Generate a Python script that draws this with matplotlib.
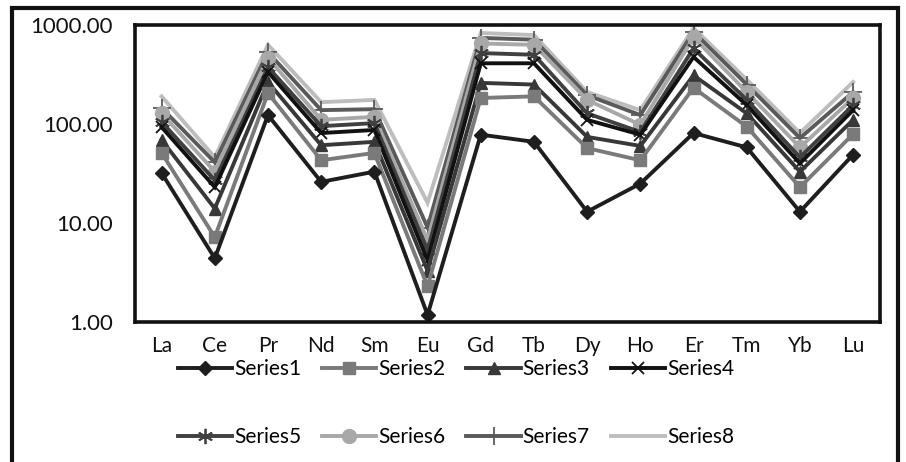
import matplotlib.pyplot as plt
from matplotlib.patches import Rectangle
from matplotlib.ticker import FixedLocator, FuncFormatter, NullLocator

elements = ["La", "Ce", "Pr", "Nd", "Sm", "Eu", "Gd", "Tb", "Dy", "Ho", "Er", "Tm", "Yb", "Lu"]

series1 = [32, 4.4, 123, 26, 33, 1.18, 78, 66, 13, 25, 81, 58, 13, 49]
series2 = [51, 7.2, 205, 43, 51, 2.3, 183, 190, 57, 43, 232, 94, 23, 79]
series3 = [69, 14, 265, 61, 66, 3.3, 260, 250, 74, 60, 310, 128, 33, 110]
series4 = [93, 23, 335, 81, 87, 4.2, 410, 410, 110, 78, 475, 155, 40, 138]
series5 = [105, 27, 375, 95, 102, 5.3, 520, 500, 128, 83, 580, 175, 46, 155]
series6 = [128, 33, 465, 110, 118, 6.7, 650, 630, 175, 98, 750, 210, 58, 183]
series7 = [145, 41, 530, 138, 141, 9, 740, 710, 195, 123, 850, 250, 72, 210]
series8 = [190, 46, 630, 166, 175, 16, 830, 790, 210, 138, 930, 280, 81, 265]

labels = ["Series1", "Series2", "Series3", "Series4",
          "Series5", "Series6", "Series7", "Series8"]
values = [series1, series2, series3, series4, series5, series6, series7, series8]

# grayscale styling for each series
colors = ["#1e1e1e", "#7a7a7a", "#383838", "#111111",
          "#404040", "#a8a8a8", "#5a5a5a", "#bdbdbd"]
markers = ["D", "s", "^", "x", (6, 2, 0), "o", "+", None]
msizes = [7, 9, 9, 9, 11, 10, 13, 0]

plt.rcParams["font.family"] = ["Lato", "DejaVu Sans"]

fig = plt.figure(figsize=(9.06, 4.62), dpi=100)
ax = fig.add_axes([0.149, 0.303, 0.822, 0.643])

x = list(range(len(elements)))
handles = {}
# draw the top series first so the darker ones sit on top
for i in reversed(range(len(values))):
    m = markers[i]
    mk = dict(marker=m, markersize=msizes[i], markerfacecolor=colors[i],
              markeredgecolor=colors[i]) if m is not None else {}
    if m in ("x", "+") or isinstance(m, tuple):
        mk["markeredgewidth"] = 1.3
    line, = ax.plot(x, values[i], color=colors[i], lw=2.8, label=labels[i],
                    solid_joinstyle="miter", **mk)
    handles[i] = line

ax.set_yscale("log")
ax.set_ylim(1, 1000)
ax.set_xlim(-0.5, len(elements) - 0.5)
ax.yaxis.set_major_locator(FixedLocator([1, 10, 100, 1000]))
ax.yaxis.set_minor_locator(NullLocator())
ax.yaxis.set_major_formatter(FuncFormatter(lambda v, p: f"{v:.2f}"))
ax.set_xticks(x)
ax.set_xticklabels(elements)
ax.tick_params(axis="x", length=0, labelsize=15, colors="#111111", pad=10)
ax.tick_params(axis="y", length=0, labelsize=16, colors="#111111", pad=16)
for s in ax.spines.values():
    s.set_linewidth(2.6)
    s.set_color("#111111")

# outer chart frame
fig.patches.append(Rectangle((12 / 906, -0.05), 886 / 906, 1.05 - 8 / 462,
                             transform=fig.transFigure, fill=False,
                             lw=3, edgecolor="#111111"))

# legend fills row by row: 4 entries per row
order = [0, 4, 1, 5, 2, 6, 3, 7]
fig.legend([handles[i] for i in order], [labels[i] for i in order],
           ncol=4, loc="upper left", bbox_to_anchor=(0.185, 0.245),
           frameon=False, fontsize=15, handlelength=2.6, handletextpad=0.1,
           columnspacing=1.0, labelspacing=2.3, borderpad=0)

fig.savefig("out.png", dpi=100)
